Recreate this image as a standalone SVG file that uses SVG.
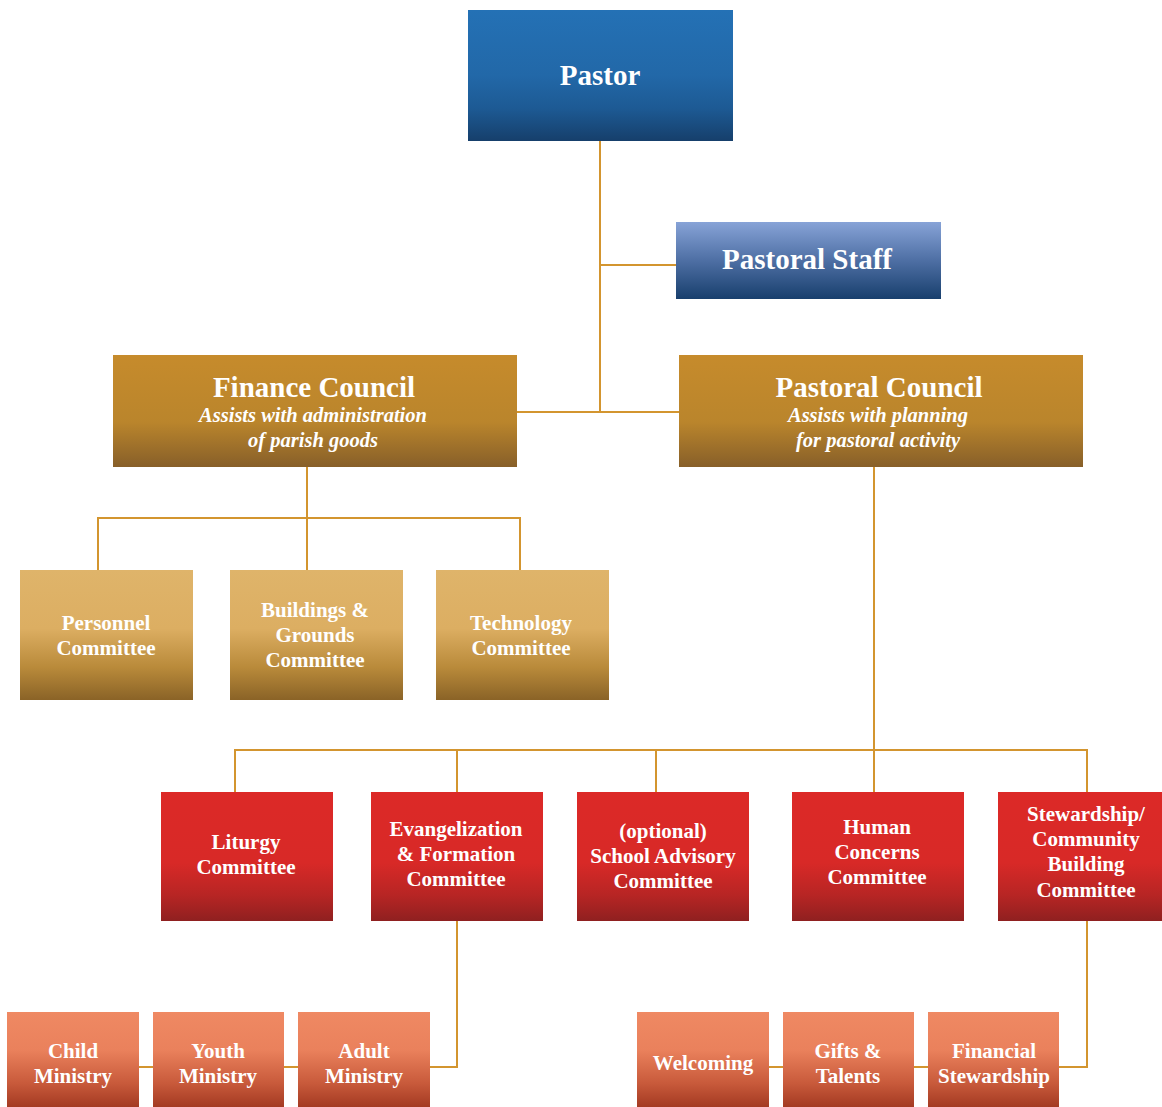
<svg xmlns="http://www.w3.org/2000/svg" width="1162" height="1107" viewBox="0 0 1162 1107">
<defs>
<linearGradient id="gBlue" x1="0" y1="0" x2="0" y2="1"><stop offset="0" stop-color="#2471b5"/><stop offset="0.5" stop-color="#2268a8"/><stop offset="0.75" stop-color="#1d5a94"/><stop offset="1" stop-color="#163f6b"/></linearGradient>
<linearGradient id="gStaff" x1="0" y1="0" x2="0" y2="1"><stop offset="0" stop-color="#87a3d7"/><stop offset="0.5" stop-color="#4e6fa4"/><stop offset="1" stop-color="#183f6d"/></linearGradient>
<linearGradient id="gGold" x1="0" y1="0" x2="0" y2="1"><stop offset="0" stop-color="#c68b2c"/><stop offset="0.6" stop-color="#ba852c"/><stop offset="1" stop-color="#875f29"/></linearGradient>
<linearGradient id="gLight" x1="0" y1="0" x2="0" y2="1"><stop offset="0" stop-color="#dfb46a"/><stop offset="0.45" stop-color="#dcae62"/><stop offset="0.75" stop-color="#b98a3a"/><stop offset="1" stop-color="#8a6327"/></linearGradient>
<linearGradient id="gRed" x1="0" y1="0" x2="0" y2="1"><stop offset="0" stop-color="#dc2927"/><stop offset="0.55" stop-color="#d82927"/><stop offset="0.8" stop-color="#b72524"/><stop offset="1" stop-color="#8f2020"/></linearGradient>
<linearGradient id="gOrange" x1="0" y1="0" x2="0" y2="1"><stop offset="0" stop-color="#ef8963"/><stop offset="0.4" stop-color="#ea815c"/><stop offset="0.75" stop-color="#c85a3b"/><stop offset="1" stop-color="#a43a22"/></linearGradient>
</defs>
<style>
text{font-family:"Liberation Serif","Times New Roman",serif;font-weight:bold;fill:#ffffff;text-anchor:middle}
.big{font-size:29px}
.it{font-size:20.5px;font-style:italic}
.sm{font-size:21px}
#connectors path{fill:none;stroke:#d3952f;stroke-width:2}
</style>
<g id="connectors">
<path d="M600,141 V412"/>
<path d="M600,265 H676"/>
<path d="M517,412 H679"/>
<path d="M307,467 V570"/>
<path d="M98,570 V518 H520 V570"/>
<path d="M874,467 V792"/>
<path d="M235,792 V750 H1087 V792"/>
<path d="M457,750 V792"/>
<path d="M656,750 V792"/>
<path d="M457,921 V1067 H430"/>
<path d="M139,1067 H153 M284,1067 H298"/>
<path d="M1087,921 V1067 H1059"/>
<path d="M769,1067 H783 M914,1067 H928"/>
</g>
<g id="pastor"><rect x="468" y="10" width="265" height="131" fill="url(#gBlue)"/><text class="big" x="600" y="85">Pastor</text></g>
<g id="staff"><rect x="676" y="222" width="265" height="77" fill="url(#gStaff)"/><text class="big" x="807" y="269">Pastoral Staff</text></g>
<g id="finance"><rect x="113" y="355" width="404" height="112" fill="url(#gGold)"/><text class="big" x="314" y="397">Finance Council</text><text class="it" x="313" y="422">Assists with administration</text><text class="it" x="313" y="447">of parish goods</text></g>
<g id="pastoral"><rect x="679" y="355" width="404" height="112" fill="url(#gGold)"/><text class="big" x="879" y="397">Pastoral Council</text><text class="it" x="878" y="422">Assists with planning</text><text class="it" x="878" y="447">for pastoral activity</text></g>
<g id="personnel"><rect x="20" y="570" width="173" height="130" fill="url(#gLight)"/><text class="sm" x="106" y="630">Personnel</text><text class="sm" x="106" y="655">Committee</text></g>
<g id="buildings"><rect x="230" y="570" width="173" height="130" fill="url(#gLight)"/><text class="sm" x="315" y="617">Buildings &amp;</text><text class="sm" x="315" y="642">Grounds</text><text class="sm" x="315" y="667">Committee</text></g>
<g id="technology"><rect x="436" y="570" width="173" height="130" fill="url(#gLight)"/><text class="sm" x="521" y="630">Technology</text><text class="sm" x="521" y="655">Committee</text></g>
<g id="liturgy"><rect x="161" y="792" width="172" height="129" fill="url(#gRed)"/><text class="sm" x="246" y="849">Liturgy</text><text class="sm" x="246" y="874">Committee</text></g>
<g id="evangelization"><rect x="371" y="792" width="172" height="129" fill="url(#gRed)"/><text class="sm" x="456" y="836">Evangelization</text><text class="sm" x="456" y="861">&amp; Formation</text><text class="sm" x="456" y="886">Committee</text></g>
<g id="school"><rect x="577" y="792" width="172" height="129" fill="url(#gRed)"/><text class="sm" x="663" y="838">(optional)</text><text class="sm" x="663" y="863">School Advisory</text><text class="sm" x="663" y="888">Committee</text></g>
<g id="human"><rect x="792" y="792" width="172" height="129" fill="url(#gRed)"/><text class="sm" x="877" y="834">Human</text><text class="sm" x="877" y="859">Concerns</text><text class="sm" x="877" y="884">Committee</text></g>
<g id="stewardship"><rect x="998" y="792" width="164" height="129" fill="url(#gRed)"/><text class="sm" x="1086" y="821">Stewardship/</text><text class="sm" x="1086" y="846">Community</text><text class="sm" x="1086" y="871">Building</text><text class="sm" x="1086" y="897">Committee</text></g>
<g id="child"><rect x="7" y="1012" width="132" height="95" fill="url(#gOrange)"/><text class="sm" x="73" y="1058">Child</text><text class="sm" x="73" y="1083">Ministry</text></g>
<g id="youth"><rect x="153" y="1012" width="131" height="95" fill="url(#gOrange)"/><text class="sm" x="218" y="1058">Youth</text><text class="sm" x="218" y="1083">Ministry</text></g>
<g id="adult"><rect x="298" y="1012" width="132" height="95" fill="url(#gOrange)"/><text class="sm" x="364" y="1058">Adult</text><text class="sm" x="364" y="1083">Ministry</text></g>
<g id="welcoming"><rect x="637" y="1012" width="132" height="95" fill="url(#gOrange)"/><text class="sm" x="703" y="1070">Welcoming</text></g>
<g id="gifts"><rect x="783" y="1012" width="131" height="95" fill="url(#gOrange)"/><text class="sm" x="848" y="1058">Gifts &amp;</text><text class="sm" x="848" y="1083">Talents</text></g>
<g id="financial"><rect x="928" y="1012" width="131" height="95" fill="url(#gOrange)"/><text class="sm" x="994" y="1058">Financial</text><text class="sm" x="994" y="1083">Stewardship</text></g>
</svg>
